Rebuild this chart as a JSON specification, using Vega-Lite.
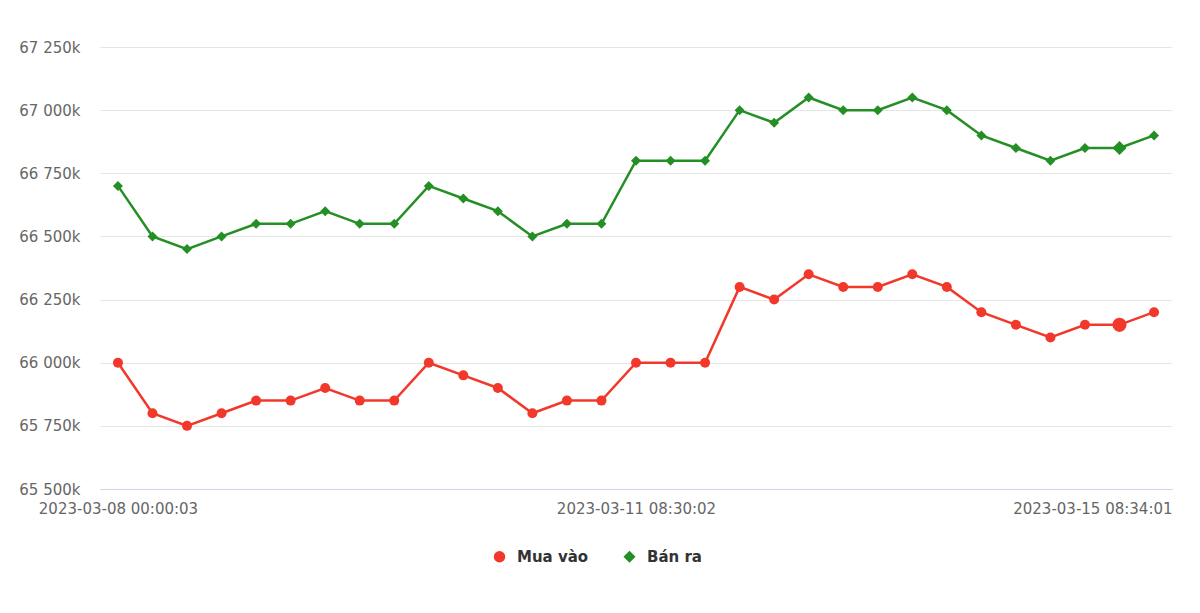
{
  "$schema": "https://vega.github.io/schema/vega-lite/v6.json",
  "width": 1072,
  "height": 442,
  "autosize": "none",
  "padding": {"left": 100, "top": 47, "right": 28, "bottom": 124},
  "background": "#ffffff",
  "config": {"view": {"stroke": null}, "font": "DejaVu Sans"},
  "data": {
    "values": [
      {"i": 0, "series": "Mua vào", "value": 66000}, {"i": 0, "series": "Bán ra", "value": 66700},
      {"i": 1, "series": "Mua vào", "value": 65800}, {"i": 1, "series": "Bán ra", "value": 66500},
      {"i": 2, "series": "Mua vào", "value": 65750}, {"i": 2, "series": "Bán ra", "value": 66450},
      {"i": 3, "series": "Mua vào", "value": 65800}, {"i": 3, "series": "Bán ra", "value": 66500},
      {"i": 4, "series": "Mua vào", "value": 65850}, {"i": 4, "series": "Bán ra", "value": 66550},
      {"i": 5, "series": "Mua vào", "value": 65850}, {"i": 5, "series": "Bán ra", "value": 66550},
      {"i": 6, "series": "Mua vào", "value": 65900}, {"i": 6, "series": "Bán ra", "value": 66600},
      {"i": 7, "series": "Mua vào", "value": 65850}, {"i": 7, "series": "Bán ra", "value": 66550},
      {"i": 8, "series": "Mua vào", "value": 65850}, {"i": 8, "series": "Bán ra", "value": 66550},
      {"i": 9, "series": "Mua vào", "value": 66000}, {"i": 9, "series": "Bán ra", "value": 66700},
      {"i": 10, "series": "Mua vào", "value": 65950}, {"i": 10, "series": "Bán ra", "value": 66650},
      {"i": 11, "series": "Mua vào", "value": 65900}, {"i": 11, "series": "Bán ra", "value": 66600},
      {"i": 12, "series": "Mua vào", "value": 65800}, {"i": 12, "series": "Bán ra", "value": 66500},
      {"i": 13, "series": "Mua vào", "value": 65850}, {"i": 13, "series": "Bán ra", "value": 66550},
      {"i": 14, "series": "Mua vào", "value": 65850}, {"i": 14, "series": "Bán ra", "value": 66550},
      {"i": 15, "series": "Mua vào", "value": 66000}, {"i": 15, "series": "Bán ra", "value": 66800},
      {"i": 16, "series": "Mua vào", "value": 66000}, {"i": 16, "series": "Bán ra", "value": 66800},
      {"i": 17, "series": "Mua vào", "value": 66000}, {"i": 17, "series": "Bán ra", "value": 66800},
      {"i": 18, "series": "Mua vào", "value": 66300}, {"i": 18, "series": "Bán ra", "value": 67000},
      {"i": 19, "series": "Mua vào", "value": 66250}, {"i": 19, "series": "Bán ra", "value": 66950},
      {"i": 20, "series": "Mua vào", "value": 66350}, {"i": 20, "series": "Bán ra", "value": 67050},
      {"i": 21, "series": "Mua vào", "value": 66300}, {"i": 21, "series": "Bán ra", "value": 67000},
      {"i": 22, "series": "Mua vào", "value": 66300}, {"i": 22, "series": "Bán ra", "value": 67000},
      {"i": 23, "series": "Mua vào", "value": 66350}, {"i": 23, "series": "Bán ra", "value": 67050},
      {"i": 24, "series": "Mua vào", "value": 66300}, {"i": 24, "series": "Bán ra", "value": 67000},
      {"i": 25, "series": "Mua vào", "value": 66200}, {"i": 25, "series": "Bán ra", "value": 66900},
      {"i": 26, "series": "Mua vào", "value": 66150}, {"i": 26, "series": "Bán ra", "value": 66850},
      {"i": 27, "series": "Mua vào", "value": 66100}, {"i": 27, "series": "Bán ra", "value": 66800},
      {"i": 28, "series": "Mua vào", "value": 66150}, {"i": 28, "series": "Bán ra", "value": 66850},
      {"i": 29, "series": "Mua vào", "value": 66150}, {"i": 29, "series": "Bán ra", "value": 66850},
      {"i": 30, "series": "Mua vào", "value": 66200}, {"i": 30, "series": "Bán ra", "value": 66900}
    ]
  },
  "encoding": {
    "x": {
      "field": "i",
      "type": "quantitative",
      "scale": {"domain": [-0.52, 30.52], "nice": false, "zero": false},
      "axis": {
        "title": null,
        "grid": false,
        "ticks": false,
        "domain": true,
        "domainColor": "#ccd6eb",
        "domainWidth": 1,
        "values": [0, 15, 30],
        "labelExpr": "datum.value == 0 ? '2023-03-08 00:00:03' : datum.value == 15 ? '2023-03-11 08:30:02' : '2023-03-15 08:34:01'",
        "labelAlign": {"expr": "datum.value == 30 ? 'right' : 'center'"},
        "labelOffset": {"expr": "datum.value == 30 ? 18 : 0"},
        "labelFontSize": 15,
        "labelColor": "#666666",
        "labelPadding": 12,
        "labelFlush": false,
        "labelOverlap": false
      }
    },
    "y": {
      "field": "value",
      "type": "quantitative",
      "scale": {"domain": [65500, 67250], "nice": false, "zero": false},
      "axis": {
        "title": null,
        "values": [65500, 65750, 66000, 66250, 66500, 66750, 67000, 67250],
        "labelExpr": "replace(format(datum.value, ','), ',', ' ') + 'k'",
        "domain": false,
        "ticks": false,
        "gridColor": "#e6e6e6",
        "gridWidth": 1,
        "labelFontSize": 15,
        "labelColor": "#666666",
        "labelPadding": 20
      }
    },
    "color": {
      "field": "series",
      "type": "nominal",
      "scale": {"domain": ["Mua vào", "Bán ra"], "range": ["#f2382b", "#248f24"]},
      "legend": {
        "title": null,
        "orient": "none",
        "direction": "horizontal",
        "legendX": 392,
        "legendY": 502,
        "labelFontSize": 15,
        "labelFontWeight": "bold",
        "labelColor": "#333333",
        "symbolSize": 100,
        "columnPadding": 32,
        "labelOffset": 10
      }
    }
  },
  "layer": [
    {
      "mark": {"type": "line", "strokeWidth": 2.5},
      "encoding": {"detail": {"field": "series"}}
    },
    {
      "mark": {"type": "point", "filled": true, "opacity": 1, "size": 100},
      "encoding": {
        "shape": {
          "field": "series",
          "type": "nominal",
          "scale": {"domain": ["Mua vào", "Bán ra"], "range": ["circle", "diamond"]},
          "legend": null
        }
      }
    },
    {
      "transform": [{"filter": "datum.i == 29"}],
      "mark": {"type": "point", "filled": true, "opacity": 1, "size": 200},
      "encoding": {
        "shape": {
          "field": "series",
          "type": "nominal",
          "scale": {"domain": ["Mua vào", "Bán ra"], "range": ["circle", "diamond"]},
          "legend": null
        }
      }
    }
  ]
}
